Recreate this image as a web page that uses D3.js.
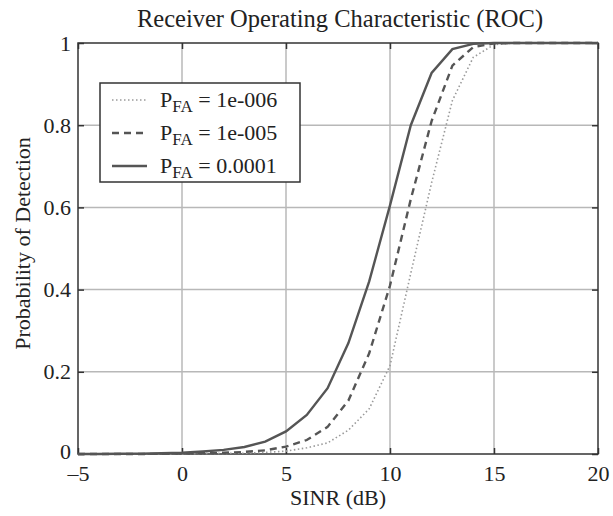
<!DOCTYPE html>
<html>
<head>
<meta charset="utf-8">
<script src="https://cdn.jsdelivr.net/npm/d3@7"></script>
<style>
  body { margin: 0; background: #fff; }
  text { font-family: "Liberation Serif", "DejaVu Serif", serif; fill: #222; }
</style>
</head>
<body>
<svg id="chart" width="613" height="516"></svg>
<script>
// SINR values (dB) where each curve is sampled
const sinr = [-5, -4, -3, -2, -1, 0, 1, 2, 3, 4, 5, 6, 7, 8, 9, 10, 11, 12, 13, 14, 15, 16, 17, 18, 19, 20]

const pd6 = [0, 0, 0, 0, 0, 0.0005, 0.001, 0.0015, 0.002, 0.004, 0.007, 0.015, 0.027, 0.058, 0.11, 0.215, 0.44, 0.66, 0.86, 0.965, 0.996, 1, 1, 1, 1, 1]
const pd5 = [0, 0, 0, 0, 0.0005, 0.001, 0.002, 0.003, 0.005, 0.009, 0.018, 0.034, 0.066, 0.13, 0.245, 0.41, 0.62, 0.81, 0.945, 0.99, 0.999, 1, 1, 1, 1, 1]
const pd4 = [0, 0, 0.0005, 0.001, 0.002, 0.003, 0.006, 0.01, 0.017, 0.03, 0.055, 0.095, 0.16, 0.27, 0.42, 0.605, 0.8, 0.927, 0.985, 0.998, 1, 1, 1, 1, 1, 1]

const legendLabels = ['1e-006', '1e-005', '0.0001']
const xTicks = [-5, 0, 5, 10, 15, 20]
const yTicks = [0, 0.2, 0.4, 0.6, 0.8, 1]

const svg = d3.select('#chart')
const margin = { left: 78, right: 15, top: 43, bottom: 62 }
const width = 613 - margin.left - margin.right
const height = 516 - margin.top - margin.bottom

const x = d3.scaleLinear().domain([-5, 20]).range([0, width])
const y = d3.scaleLinear().domain([0, 1]).range([height, 0])

const g = svg.append('g').attr('transform', `translate(${margin.left},${margin.top})`)

// grid
g.append('g').selectAll('line').data(xTicks.slice(1, -1)).enter()
  .append('line')
  .attr('x1', d => x(d)).attr('x2', d => x(d))
  .attr('y1', 0).attr('y2', height)
  .attr('stroke', '#b8b8b8').attr('stroke-width', 1.5)
g.append('g').selectAll('line').data(yTicks.slice(1, -1)).enter()
  .append('line')
  .attr('y1', d => y(d)).attr('y2', d => y(d))
  .attr('x1', 0).attr('x2', width)
  .attr('stroke', '#b8b8b8').attr('stroke-width', 1.5)

// axes (ticks inside)
const fmtY = d => d === 0 || d === 1 ? d3.format('d')(d) : d3.format('.1f')(d)
const xAxis = g.append('g').attr('transform', `translate(0,${height})`)
  .call(d3.axisBottom(x).tickValues(xTicks).tickSize(-6).tickPadding(11).tickFormat(d => d < 0 ? '\u2013' + Math.abs(d) : d))
const xAxisTop = g.append('g')
  .call(d3.axisTop(x).tickValues(xTicks).tickSize(-6).tickFormat(''))
const yAxis = g.append('g')
  .call(d3.axisLeft(y).tickValues(yTicks).tickSize(-6).tickPadding(7).tickFormat(fmtY))
const yAxisRight = g.append('g').attr('transform', `translate(${width},0)`)
  .call(d3.axisRight(y).tickValues(yTicks).tickSize(-6).tickFormat(''))

;[xAxis, xAxisTop, yAxis, yAxisRight].forEach(a => {
  a.select('.domain').remove()
  a.selectAll('line').attr('stroke', '#333').attr('stroke-width', 1.5)
  a.selectAll('text').attr('font-size', 22).attr('fill', '#222')
    .style('font-family', '"Liberation Serif", serif')
})
// keep the y "0" clear of the x "-5"
yAxis.selectAll('.tick text').filter(d => d === 0).attr('dy', '0.2em')

g.append('rect')
  .attr('width', width).attr('height', height)
  .attr('fill', 'none').attr('stroke', '#333').attr('stroke-width', 1.5)

// curves
const series = [
  { values: pd6, color: '#9a9a9a', dash: '1.5,2.5', w: 1.6 },
  { values: pd5, color: '#555', dash: '7,5', w: 2.4 },
  { values: pd4, color: '#555', dash: null, w: 2.4 }
]
const line = d3.line().x((d, i) => x(sinr[i])).y(d => y(d))
series.forEach(s => {
  g.append('path')
    .datum(s.values)
    .attr('d', line)
    .attr('fill', 'none')
    .attr('stroke', s.color)
    .attr('stroke-width', s.w)
    .attr('stroke-dasharray', s.dash)
})

// legend
const lg = svg.append('g').attr('transform', 'translate(100,83)')
lg.append('rect').attr('width', 200).attr('height', 99)
  .attr('fill', '#fff').attr('stroke', '#333').attr('stroke-width', 1.5)
series.forEach((s, i) => {
  const ly = 17 + i * 33
  lg.append('line')
    .attr('x1', 12).attr('x2', 47).attr('y1', ly).attr('y2', ly)
    .attr('stroke', s.color).attr('stroke-width', s.w)
    .attr('stroke-dasharray', s.dash)
  const t = lg.append('text').attr('x', 60).attr('y', ly + 7).attr('font-size', 22)
  t.append('tspan').text('P')
  t.append('tspan').attr('dy', 5).attr('font-size', 17).text('FA')
  t.append('tspan').attr('dy', -5).text(' = ' + legendLabels[i])
})

// titles
svg.append('text').attr('x', 340).attr('y', 27)
  .attr('text-anchor', 'middle').attr('font-size', 24.5)
  .text('Receiver Operating Characteristic (ROC)')
svg.append('text').attr('x', margin.left + width / 2).attr('y', 505)
  .attr('text-anchor', 'middle').attr('font-size', 22)
  .text('SINR (dB)')
svg.append('text')
  .attr('transform', `translate(30,${margin.top + height / 2 - 5}) rotate(-90)`)
  .attr('text-anchor', 'middle').attr('font-size', 22)
  .text('Probability of Detection')
</script>
</body>
</html>
